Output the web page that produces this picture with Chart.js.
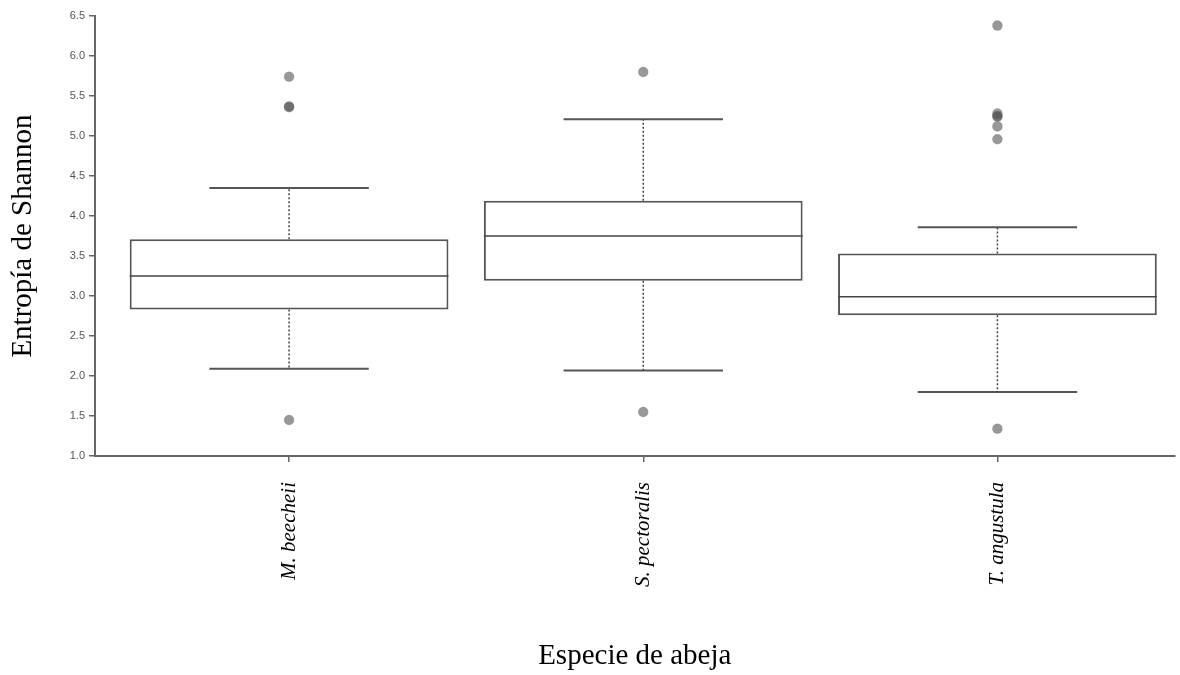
<!DOCTYPE html>
<html lang="es">
<head>
    <meta charset="UTF-8">
    <title>Entropía de Shannon por especie de abeja</title>
    <style>
        html, body { margin: 0; padding: 0; background: #ffffff; }
        #wrap { width: 1180px; height: 675px; }
    </style>
</head>
<body>
    <div id="wrap"><canvas id="boxChart" width="1180" height="675"></canvas></div>

    <script src="https://cdn.jsdelivr.net/npm/chart.js"></script>
    <script>
        // datos
        const species = ['M. beecheii', 'S. pectoralis', 'T. angustula'];
        const whiskerLow = [2.09, 2.07, 1.80];
        const q1 = [2.83, 3.19, 2.76];
        const median = [3.25, 3.75, 2.99];
        const q3 = [3.71, 4.19, 3.53];
        const whiskerHigh = [4.35, 5.21, 3.86];
        const outliers = [
            [1.45, 5.36, 5.37, 5.74],
            [1.55, 5.80],
            [1.34, 4.96, 5.12, 5.24, 5.25, 5.28, 6.38]
        ];
        const yTicks = [1.0, 1.5, 2.0, 2.5, 3.0, 3.5, 4.0, 4.5, 5.0, 5.5, 6.0, 6.5];

        const positions = species.map((s, i) => i + 1);

        // bigotes, topes y mediana
        const whiskerPlugin = {
            id: 'whiskers',
            afterDatasetsDraw(chart) {
                const ctx = chart.ctx;
                const xs = chart.scales.x;
                const ys = chart.scales.y;
                const meta = chart.getDatasetMeta(0);
                ctx.save();
                positions.forEach((p, i) => {
                    const bar = meta.data[i];
                    const half = bar.width / 2;
                    const cx = xs.getPixelForValue(p);
                    const yMed = ys.getPixelForValue(median[i]);
                    const yLo = ys.getPixelForValue(whiskerLow[i]);
                    const yHi = ys.getPixelForValue(whiskerHigh[i]);
                    const yQ1 = ys.getPixelForValue(q1[i]);
                    const yQ3 = ys.getPixelForValue(q3[i]);

                    // mediana
                    ctx.strokeStyle = '#444';
                    ctx.lineWidth = 1.5;
                    ctx.setLineDash([]);
                    ctx.beginPath();
                    ctx.moveTo(cx - half, yMed);
                    ctx.lineTo(cx + half, yMed);
                    ctx.stroke();

                    // topes
                    ctx.strokeStyle = '#555';
                    ctx.lineWidth = 2;
                    ctx.beginPath();
                    ctx.moveTo(cx - half / 2, yHi);
                    ctx.lineTo(cx + half / 2, yHi);
                    ctx.moveTo(cx - half / 2, yLo);
                    ctx.lineTo(cx + half / 2, yLo);
                    ctx.stroke();

                    // bigotes punteados
                    ctx.strokeStyle = '#444';
                    ctx.lineWidth = 1.5;
                    ctx.setLineDash([2, 2]);
                    ctx.beginPath();
                    ctx.moveTo(cx, yQ3);
                    ctx.lineTo(cx, yHi);
                    ctx.moveTo(cx, yQ1);
                    ctx.lineTo(cx, yLo);
                    ctx.stroke();
                });
                ctx.restore();
            }
        };

        const outlierPoints = [];
        outliers.forEach((list, i) => {
            list.forEach(v => outlierPoints.push({ x: positions[i], y: v }));
        });

        const serif = "'Liberation Serif', 'Times New Roman', serif";

        new Chart(document.getElementById('boxChart'), {
            type: 'bar',
            data: {
                datasets: [
                    {
                        label: 'caja',
                        data: positions.map((p, i) => ({ x: p, y: [q1[i], q3[i]] })),
                        backgroundColor: '#ffffff',
                        borderColor: '#555',
                        borderWidth: 2,
                        borderSkipped: false,
                        barPercentage: 0.9,
                        categoryPercentage: 1.0,
                        order: 2
                    },
                    {
                        type: 'scatter',
                        label: 'atípicos',
                        data: outlierPoints,
                        backgroundColor: 'rgba(84,84,84,0.6)',
                        borderColor: 'rgba(84,84,84,0.3)',
                        borderWidth: 0.5,
                        pointRadius: 5,
                        order: 1
                    }
                ]
            },
            options: {
                responsive: false,
                animation: false,
                events: [],
                layout: { padding: { top: 16, right: 0, bottom: 0, left: 0 } },
                plugins: {
                    legend: { display: false },
                    tooltip: { enabled: false }
                },
                scales: {
                    x: {
                        type: 'linear',
                        min: 0.452,
                        max: 3.5,
                        offset: false,
                        afterBuildTicks: (scale) => {
                            scale.ticks = positions.map(v => ({ value: v }));
                        },
                        afterFit: (scale) => { scale.height = 219; },
                        grid: {
                            offset: false,
                            drawOnChartArea: false,
                            drawTicks: true,
                            tickLength: 6,
                            color: '#666',
                            lineWidth: 1.5
                        },
                        border: { color: '#666', width: 2 },
                        ticks: {
                            autoSkip: false,
                            minRotation: 90,
                            maxRotation: 90,
                            padding: 20,
                            color: '#000',
                            font: { family: serif, size: 21, style: 'italic' },
                            callback: (v) => species[v - 1]
                        },
                        title: {
                            display: true,
                            text: 'Especie de abeja',
                            color: '#000',
                            font: { family: serif, size: 29 },
                            padding: { top: 0, bottom: 1 }
                        }
                    },
                    y: {
                        min: 1.0,
                        max: 6.5,
                        afterBuildTicks: (scale) => {
                            scale.ticks = yTicks.map(v => ({ value: v }));
                        },
                        afterFit: (scale) => { scale.width = 95; },
                        grid: {
                            drawOnChartArea: false,
                            drawTicks: true,
                            tickLength: 6,
                            color: '#666',
                            lineWidth: 1.5
                        },
                        border: { color: '#666', width: 2 },
                        ticks: {
                            padding: 4,
                            color: '#555',
                            font: { family: "'Liberation Sans', Arial, sans-serif", size: 11 },
                            callback: (v) => Number(v).toFixed(1)
                        },
                        title: {
                            display: true,
                            text: 'Entropía de Shannon',
                            color: '#000',
                            font: { family: serif, size: 29 },
                            padding: { top: 6, bottom: 0 }
                        }
                    }
                }
            },
            plugins: [whiskerPlugin]
        });
    </script>
</body>
</html>
